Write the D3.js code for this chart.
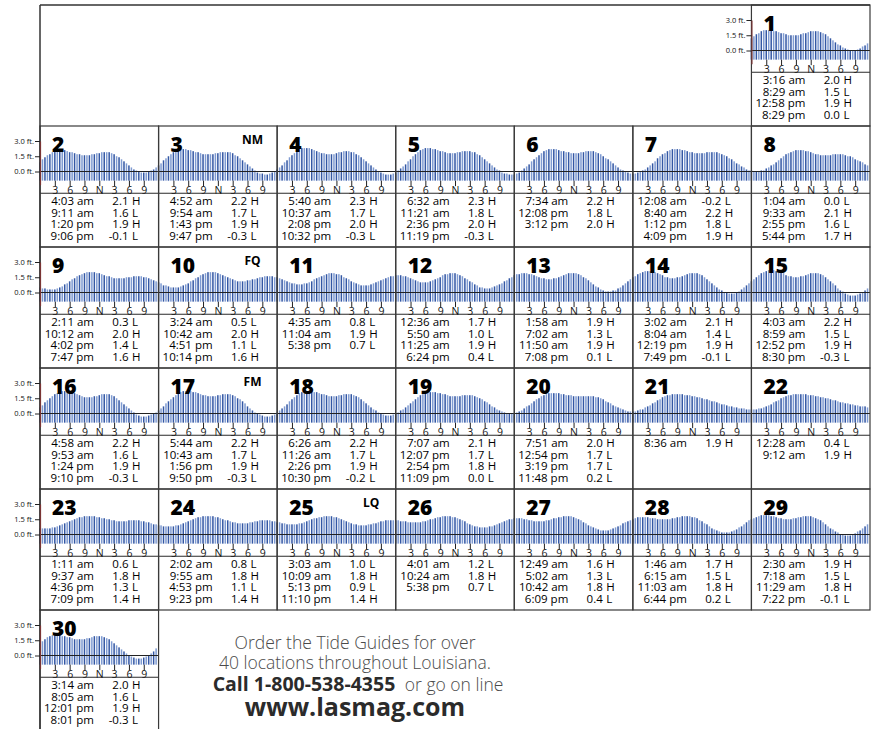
<!DOCTYPE html>
<html><head><meta charset="utf-8">
<script src="https://cdn.jsdelivr.net/npm/d3@7"></script>
<style>
html,body{margin:0;padding:0;background:#fff;}
svg{display:block;font-family:"Open Sans","Noto Sans",sans-serif;}
</style></head><body>
<svg id="chart" width="875" height="729"></svg>
<script>
const dayNumbers = d3.range(1, 31);
const tideTimes = [
["3:16 am","8:29 am","12:58 pm","8:29 pm"],
["4:03 am","9:11 am","1:20 pm","9:06 pm"],
["4:52 am","9:54 am","1:43 pm","9:47 pm"],
["5:40 am","10:37 am","2:08 pm","10:32 pm"],
["6:32 am","11:21 am","2:36 pm","11:19 pm"],
["7:34 am","12:08 pm","3:12 pm"],
["12:08 am","8:40 am","1:12 pm","4:09 pm"],
["1:04 am","9:33 am","2:55 pm","5:44 pm"],
["2:11 am","10:12 am","4:02 pm","7:47 pm"],
["3:24 am","10:42 am","4:51 pm","10:14 pm"],
["4:35 am","11:04 am","5:38 pm"],
["12:36 am","5:50 am","11:25 am","6:24 pm"],
["1:58 am","7:02 am","11:50 am","7:08 pm"],
["3:02 am","8:04 am","12:19 pm","7:49 pm"],
["4:03 am","8:59 am","12:52 pm","8:30 pm"],
["4:58 am","9:53 am","1:24 pm","9:10 pm"],
["5:44 am","10:43 am","1:56 pm","9:50 pm"],
["6:26 am","11:26 am","2:26 pm","10:30 pm"],
["7:07 am","12:07 pm","2:54 pm","11:09 pm"],
["7:51 am","12:54 pm","3:19 pm","11:48 pm"],
["8:36 am"],
["12:28 am","9:12 am"],
["1:11 am","9:37 am","4:36 pm","7:09 pm"],
["2:02 am","9:55 am","4:53 pm","9:23 pm"],
["3:03 am","10:09 am","5:13 pm","11:10 pm"],
["4:01 am","10:24 am","5:38 pm"],
["12:49 am","5:02 am","10:42 am","6:09 pm"],
["1:46 am","6:15 am","11:03 am","6:44 pm"],
["2:30 am","7:18 am","11:29 am","7:22 pm"],
["3:14 am","8:05 am","12:01 pm","8:01 pm"]
];
const tideLevels = [
["2.0","1.5","1.9","0.0"],
["2.1","1.6","1.9","-0.1"],
["2.2","1.7","1.9","-0.3"],
["2.3","1.7","2.0","-0.3"],
["2.3","1.8","2.0","-0.3"],
["2.2","1.8","2.0"],
["-0.2","2.2","1.8","1.9"],
["0.0","2.1","1.6","1.7"],
["0.3","2.0","1.4","1.6"],
["0.5","2.0","1.1","1.6"],
["0.8","1.9","0.7"],
["1.7","1.0","1.9","0.4"],
["1.9","1.3","1.9","0.1"],
["2.1","1.4","1.9","-0.1"],
["2.2","1.5","1.9","-0.3"],
["2.2","1.6","1.9","-0.3"],
["2.2","1.7","1.9","-0.3"],
["2.2","1.7","1.9","-0.2"],
["2.1","1.7","1.8","0.0"],
["2.0","1.7","1.7","0.2"],
["1.9"],
["0.4","1.9"],
["0.6","1.8","1.3","1.4"],
["0.8","1.8","1.1","1.4"],
["1.0","1.8","0.9","1.4"],
["1.2","1.8","0.7"],
["1.6","1.3","1.8","0.4"],
["1.7","1.5","1.8","0.2"],
["1.9","1.5","1.8","-0.1"],
["2.0","1.6","1.9","-0.3"]
];
const tideKinds = ["HLHL","HLHL","HLHL","HLHL","HLHL","HLH","LHLH","LHLH","LHLH","LHLH",
"LHL","HLHL","HLHL","HLHL","HLHL","HLHL","HLHL","HLHL","HLHL","HLLL",
"H","LH","LHLH","LHLH","LHLH","LHL","HLHL","HLHL","HLHL","HLHL"];
// half-hourly tide heights (ft), 48 per day
const tideHeights = [
[1.2,1.4,1.6,1.7,1.9,2.0,2.0,2.0,2.0,1.9,1.9,1.8,1.7,1.7,1.6,1.5,1.5,1.5,1.5,1.5,1.6,1.7,1.7,1.8,1.9,1.9,1.9,1.9,1.8,1.7,1.6,1.4,1.2,1.0,0.8,0.6,0.5,0.3,0.2,0.1,0.0,0.0,0.0,0.1,0.2,0.4,0.5,0.7],
[0.9,1.2,1.4,1.6,1.7,1.9,2.0,2.1,2.1,2.1,2.1,2.0,1.9,1.9,1.8,1.7,1.7,1.6,1.6,1.6,1.6,1.7,1.7,1.8,1.8,1.9,1.9,1.9,1.9,1.8,1.7,1.5,1.4,1.2,1.0,0.8,0.6,0.4,0.2,0.1,0.0,-0.1,-0.1,-0.1,0.0,0.1,0.2,0.4],
[0.6,0.8,1.1,1.3,1.5,1.7,1.9,2.0,2.1,2.2,2.2,2.2,2.1,2.1,2.0,1.9,1.9,1.8,1.7,1.7,1.7,1.7,1.7,1.8,1.8,1.9,1.9,1.9,1.9,1.9,1.8,1.6,1.5,1.3,1.1,0.9,0.7,0.5,0.3,0.1,-0.1,-0.2,-0.2,-0.3,-0.3,-0.2,-0.1,0.0],
[0.2,0.4,0.6,0.9,1.1,1.4,1.6,1.8,2.0,2.2,2.3,2.3,2.3,2.3,2.2,2.1,2.0,1.9,1.8,1.8,1.7,1.7,1.7,1.7,1.8,1.9,1.9,2.0,2.0,2.0,1.9,1.9,1.7,1.6,1.4,1.2,1.0,0.8,0.6,0.4,0.2,0.0,-0.1,-0.2,-0.3,-0.3,-0.3,-0.2],
[-0.1,0.1,0.3,0.5,0.7,1.0,1.2,1.5,1.7,1.9,2.1,2.2,2.3,2.3,2.3,2.2,2.2,2.1,2.0,2.0,1.9,1.8,1.8,1.8,1.8,1.9,1.9,2.0,2.0,2.0,2.0,1.9,1.9,1.7,1.6,1.4,1.2,1.0,0.8,0.6,0.4,0.2,0.1,-0.1,-0.2,-0.2,-0.3,-0.3],
[-0.3,-0.2,-0.1,0.1,0.3,0.5,0.7,1.0,1.2,1.4,1.6,1.8,2.0,2.1,2.2,2.2,2.2,2.2,2.1,2.0,2.0,1.9,1.9,1.8,1.8,1.8,1.8,1.9,1.9,2.0,2.0,2.0,2.0,1.9,1.8,1.7,1.5,1.3,1.2,1.0,0.8,0.6,0.4,0.2,0.1,0.0,-0.1,-0.2],
[-0.2,-0.2,-0.1,0.0,0.1,0.2,0.4,0.6,0.8,1.0,1.3,1.5,1.7,1.8,2.0,2.1,2.2,2.2,2.2,2.2,2.1,2.1,2.0,1.9,1.9,1.8,1.8,1.8,1.8,1.8,1.9,1.9,1.9,1.9,1.9,1.8,1.7,1.6,1.5,1.3,1.2,1.0,0.8,0.7,0.5,0.4,0.2,0.1],
[0.1,0.0,0.0,0.0,0.1,0.1,0.3,0.4,0.6,0.7,0.9,1.1,1.3,1.5,1.7,1.8,1.9,2.0,2.1,2.1,2.1,2.1,2.0,2.0,1.9,1.8,1.7,1.7,1.6,1.6,1.6,1.6,1.6,1.7,1.7,1.7,1.7,1.7,1.6,1.5,1.5,1.4,1.2,1.1,1.0,0.9,0.7,0.6],
[0.5,0.4,0.4,0.3,0.3,0.3,0.3,0.4,0.5,0.6,0.8,0.9,1.1,1.3,1.4,1.6,1.7,1.8,1.9,2.0,2.0,2.0,2.0,1.9,1.9,1.8,1.7,1.6,1.6,1.5,1.4,1.4,1.4,1.4,1.4,1.5,1.5,1.5,1.6,1.6,1.6,1.6,1.5,1.5,1.4,1.3,1.2,1.1],
[1.0,0.9,0.7,0.7,0.6,0.5,0.5,0.5,0.5,0.6,0.7,0.8,0.9,1.1,1.2,1.4,1.5,1.7,1.8,1.9,2.0,2.0,2.0,2.0,1.9,1.8,1.7,1.6,1.5,1.4,1.3,1.2,1.1,1.1,1.1,1.1,1.2,1.2,1.3,1.3,1.4,1.5,1.5,1.6,1.6,1.6,1.6,1.5],
[1.5,1.4,1.3,1.2,1.1,1.0,0.9,0.9,0.8,0.8,0.8,0.9,0.9,1.0,1.1,1.3,1.4,1.5,1.6,1.7,1.8,1.9,1.9,1.9,1.8,1.8,1.7,1.5,1.4,1.3,1.1,1.0,0.9,0.8,0.7,0.7,0.7,0.7,0.8,0.9,1.0,1.1,1.2,1.3,1.4,1.5,1.6,1.6],
[1.7,1.7,1.7,1.6,1.6,1.5,1.4,1.3,1.2,1.1,1.0,1.0,1.0,1.0,1.1,1.2,1.3,1.4,1.5,1.7,1.8,1.8,1.9,1.9,1.9,1.8,1.7,1.6,1.4,1.3,1.1,1.0,0.8,0.7,0.5,0.5,0.4,0.4,0.4,0.5,0.6,0.7,0.8,0.9,1.1,1.2,1.4,1.5],
[1.7,1.8,1.8,1.9,1.9,1.9,1.8,1.8,1.7,1.6,1.5,1.4,1.4,1.3,1.3,1.3,1.4,1.4,1.5,1.6,1.7,1.8,1.9,1.9,1.9,1.9,1.8,1.7,1.5,1.4,1.2,1.0,0.8,0.6,0.5,0.3,0.2,0.1,0.1,0.1,0.2,0.2,0.4,0.5,0.7,0.9,1.1,1.3],
[1.5,1.6,1.8,1.9,2.0,2.1,2.1,2.1,2.0,2.0,1.9,1.8,1.7,1.5,1.5,1.4,1.4,1.4,1.5,1.5,1.6,1.7,1.8,1.9,1.9,1.9,1.9,1.8,1.7,1.5,1.3,1.1,0.9,0.7,0.5,0.3,0.2,0.0,0.0,-0.1,-0.1,-0.1,0.0,0.1,0.3,0.5,0.7,0.9],
[1.1,1.3,1.5,1.7,1.9,2.0,2.1,2.2,2.2,2.2,2.1,2.1,2.0,1.9,1.7,1.6,1.6,1.5,1.5,1.5,1.6,1.6,1.7,1.8,1.9,1.9,1.9,1.9,1.8,1.7,1.5,1.3,1.1,0.9,0.7,0.4,0.2,0.1,-0.1,-0.2,-0.3,-0.3,-0.3,-0.2,-0.1,0.0,0.2,0.4],
[0.6,0.8,1.1,1.3,1.5,1.7,1.9,2.0,2.1,2.2,2.2,2.2,2.1,2.1,2.0,1.9,1.8,1.7,1.6,1.6,1.6,1.6,1.7,1.7,1.8,1.9,1.9,1.9,1.9,1.8,1.7,1.5,1.3,1.1,0.9,0.7,0.5,0.3,0.1,-0.1,-0.2,-0.3,-0.3,-0.3,-0.2,-0.1,0.0,0.1],
[0.3,0.5,0.7,1.0,1.2,1.4,1.6,1.8,2.0,2.1,2.2,2.2,2.2,2.2,2.1,2.1,2.0,1.9,1.8,1.8,1.7,1.7,1.7,1.7,1.8,1.8,1.9,1.9,1.9,1.9,1.8,1.7,1.5,1.4,1.2,1.0,0.7,0.5,0.3,0.1,0.0,-0.1,-0.2,-0.3,-0.3,-0.3,-0.2,-0.1],
[0.1,0.3,0.5,0.7,0.9,1.2,1.4,1.6,1.8,2.0,2.1,2.1,2.2,2.2,2.2,2.1,2.1,2.0,1.9,1.9,1.8,1.7,1.7,1.7,1.7,1.8,1.8,1.9,1.9,1.9,1.9,1.8,1.7,1.6,1.4,1.2,1.0,0.8,0.6,0.4,0.3,0.1,0.0,-0.1,-0.2,-0.2,-0.2,-0.1],
[0.0,0.1,0.3,0.4,0.6,0.8,1.0,1.2,1.4,1.6,1.8,1.9,2.0,2.1,2.1,2.1,2.1,2.0,2.0,1.9,1.9,1.8,1.7,1.7,1.7,1.7,1.7,1.8,1.8,1.8,1.8,1.8,1.7,1.6,1.5,1.4,1.2,1.1,0.9,0.7,0.6,0.4,0.3,0.2,0.1,0.0,0.0,0.0],
[0.0,0.1,0.2,0.3,0.5,0.7,0.8,1.0,1.2,1.4,1.5,1.7,1.8,1.9,2.0,2.0,2.0,2.0,2.0,1.9,1.9,1.8,1.8,1.8,1.7,1.7,1.7,1.7,1.7,1.7,1.7,1.7,1.7,1.6,1.6,1.5,1.4,1.2,1.1,1.0,0.8,0.7,0.6,0.5,0.4,0.3,0.2,0.2],
[0.2,0.2,0.3,0.4,0.4,0.6,0.7,0.8,1.0,1.1,1.3,1.4,1.6,1.7,1.8,1.8,1.9,1.9,1.9,1.9,1.9,1.8,1.8,1.8,1.7,1.7,1.6,1.6,1.5,1.4,1.4,1.3,1.2,1.2,1.1,1.0,0.9,0.9,0.8,0.7,0.7,0.6,0.6,0.5,0.5,0.5,0.4,0.4],
[0.4,0.4,0.4,0.5,0.5,0.6,0.7,0.8,0.9,1.1,1.2,1.3,1.5,1.6,1.7,1.8,1.8,1.9,1.9,1.9,1.9,1.9,1.9,1.8,1.8,1.8,1.7,1.7,1.6,1.6,1.5,1.5,1.4,1.3,1.3,1.2,1.1,1.1,1.0,1.0,0.9,0.9,0.8,0.8,0.7,0.7,0.7,0.6],
[0.6,0.6,0.6,0.6,0.6,0.7,0.7,0.8,0.9,1.0,1.1,1.2,1.3,1.4,1.5,1.6,1.7,1.7,1.8,1.8,1.8,1.8,1.8,1.7,1.7,1.6,1.6,1.5,1.5,1.4,1.4,1.3,1.3,1.3,1.3,1.3,1.4,1.4,1.4,1.4,1.4,1.3,1.3,1.2,1.2,1.1,1.0,1.0],
[0.9,0.9,0.8,0.8,0.8,0.8,0.8,0.9,0.9,1.0,1.1,1.2,1.3,1.4,1.5,1.6,1.7,1.7,1.8,1.8,1.8,1.8,1.8,1.7,1.7,1.6,1.5,1.4,1.4,1.3,1.2,1.2,1.1,1.1,1.1,1.1,1.1,1.2,1.2,1.3,1.3,1.4,1.4,1.4,1.4,1.4,1.3,1.3],
[1.2,1.2,1.1,1.1,1.0,1.0,1.0,1.0,1.0,1.1,1.1,1.2,1.3,1.4,1.5,1.6,1.6,1.7,1.7,1.8,1.8,1.8,1.8,1.7,1.7,1.6,1.5,1.4,1.3,1.2,1.1,1.0,1.0,0.9,0.9,0.9,0.9,1.0,1.0,1.1,1.1,1.2,1.3,1.3,1.4,1.4,1.4,1.4],
[1.4,1.4,1.3,1.3,1.3,1.2,1.2,1.2,1.2,1.2,1.2,1.3,1.3,1.4,1.5,1.5,1.6,1.7,1.7,1.8,1.8,1.8,1.8,1.7,1.7,1.6,1.5,1.4,1.3,1.1,1.0,0.9,0.8,0.8,0.7,0.7,0.7,0.7,0.8,0.8,0.9,1.0,1.1,1.2,1.3,1.4,1.5,1.5],
[1.6,1.6,1.6,1.6,1.5,1.5,1.4,1.4,1.3,1.3,1.3,1.3,1.3,1.4,1.4,1.5,1.6,1.6,1.7,1.7,1.8,1.8,1.8,1.8,1.7,1.6,1.5,1.4,1.2,1.1,0.9,0.8,0.7,0.6,0.5,0.4,0.4,0.4,0.4,0.5,0.6,0.7,0.8,0.9,1.1,1.2,1.3,1.4],
[1.5,1.6,1.7,1.7,1.7,1.7,1.7,1.6,1.6,1.6,1.5,1.5,1.5,1.5,1.5,1.5,1.6,1.6,1.7,1.7,1.8,1.8,1.8,1.8,1.7,1.7,1.6,1.4,1.3,1.1,1.0,0.8,0.6,0.5,0.4,0.3,0.2,0.2,0.2,0.2,0.3,0.4,0.5,0.7,0.8,1.0,1.2,1.4],
[1.5,1.6,1.7,1.8,1.9,1.9,1.9,1.9,1.8,1.8,1.7,1.6,1.6,1.5,1.5,1.5,1.5,1.6,1.6,1.7,1.7,1.8,1.8,1.8,1.8,1.7,1.6,1.5,1.4,1.2,1.0,0.8,0.6,0.5,0.3,0.2,0.0,0.0,-0.1,-0.1,-0.1,0.0,0.1,0.3,0.4,0.6,0.8,1.0],
[1.2,1.4,1.6,1.8,1.9,2.0,2.0,2.0,2.0,1.9,1.9,1.8,1.8,1.7,1.6,1.6,1.6,1.6,1.6,1.7,1.7,1.8,1.9,1.9,1.9,1.9,1.8,1.7,1.6,1.4,1.2,1.0,0.8,0.6,0.4,0.2,0.0,-0.1,-0.2,-0.3,-0.3,-0.3,-0.2,-0.1,0.0,0.2,0.4,0.7]
];
const hourTicks = [3, 6, 9, 12, 15, 18, 21];
const hourLabels = ["3", "6", "9", "N", "3", "6", "9"];
const levelTicks = [0, 1.5, 3.0];
const levelLabels = ["0.0 ft.", "1.5 ft.", "3.0 ft."];
const phaseDays = [3, 10, 17, 25];
const phaseLabels = ["NM", "FQ", "FM", "LQ"];
const promoLines = ["Order the Tide Guides for over", "40 locations throughout Louisiana."];
const promoCall = ["Call 1-800-538-4355", "or go on line"];
const promoUrl = "www.lasmag.com";

const svg = d3.select("#chart");
const frameL = 40, frameR = 870, frameT = 5, rowH = 121, firstCol = 6;
const colW = (frameR - frameL) / 7;
const barBottom = -0.9;

const gBars = svg.append("g");
const gFrame = svg.append("g");
const gText = svg.append("g");

dayNumbers.forEach((day, k) => {
  const idx = k + firstCol;
  const col = idx % 7, row = Math.floor(idx / 7);
  const x0 = frameL + col * colW, y0 = frameT + row * rowH;
  const x = d3.scaleLinear().domain([0, 24]).range([x0, x0 + colW]);
  const y = d3.scaleLinear().domain([0, 3]).range([y0 + 45.5, y0 + 15]);
  const g = gBars.append("g");
  g.selectAll("rect").data(tideHeights[k]).join("rect")
    .attr("x", (d, j) => x(j / 2) - 0.75)
    .attr("width", 1.5)
    .attr("y", d => y(d))
    .attr("height", d => y(barBottom) - y(d))
    .attr("fill", (d, j) => j % 2 ? "#7f9bd2" : "#3357a4");
  g.append("line").attr("x1", x0).attr("x2", x0 + colW)
    .attr("y1", y(0)).attr("y2", y(0)).attr("stroke", "#222").attr("stroke-width", 1.1);
  const ax = g.append("g").attr("transform", `translate(0,${y(barBottom)})`)
    .call(d3.axisBottom(x).tickValues(hourTicks).tickFormat((d, i) => hourLabels[i]).tickSize(5.5).tickPadding(0));
  ax.select(".domain").remove();
  ax.selectAll("line").attr("stroke", "#222");
  ax.selectAll("text").attr("font-size", 10.5).attr("font-family", "Open Sans, sans-serif").attr("fill", "#111");
  g.append("line").attr("x1", x0).attr("x2", x0 + colW)
    .attr("y1", y0 + 67.3).attr("y2", y0 + 67.3).attr("stroke", "#2a2a2a").attr("stroke-width", 1.1);
  gFrame.append("rect").attr("x", x0).attr("y", y0).attr("width", colW).attr("height", rowH)
    .attr("fill", "none").attr("stroke", "#3a3a3a").attr("stroke-width", 1.2);
  if (col === 0 || day === 1) {
    const yAx = d3.scaleLinear().domain([-1.3, 3]).range([y(-1.3), y(3)]);
    const ya = gText.append("g").attr("transform", `translate(${x0},0)`)
      .call(d3.axisLeft(yAx).tickValues(levelTicks).tickFormat((d, i) => levelLabels[i]).tickSize(5).tickSizeOuter(0).tickPadding(1));
    ya.select(".domain").attr("stroke", "#7a3434").attr("stroke-width", 1.2);
    ya.selectAll("line").attr("stroke", "#222");
    ya.selectAll("text").attr("font-size", 7.5).attr("font-family", "Open Sans, sans-serif").attr("fill", "#111");
  }
  gText.append("text").attr("x", x0 + 12).attr("y", y0 + 25.5)
    .attr("font-size", 21).attr("font-weight", 800).attr("fill", "#000").text(day);
  const p = phaseDays.indexOf(day);
  if (p >= 0) {
    gText.append("text").attr("x", x0 + 94).attr("y", y0 + 18).attr("text-anchor", "middle")
      .attr("font-size", 12).attr("font-weight", 700).attr("fill", "#000").text(phaseLabels[p]);
  }
  tideTimes[k].forEach((t, j) => {
    const by = y0 + 79 + j * 11.65;
    gText.append("text").attr("x", x0 + 54).attr("y", by).attr("text-anchor", "end")
      .attr("font-size", 11.5).attr("fill", "#000").text(t);
    gText.append("text").attr("x", x0 + 88.5).attr("y", by).attr("text-anchor", "end")
      .attr("font-size", 11.5).attr("fill", "#000").text(tideLevels[k][j]);
    gText.append("text").attr("x", x0 + 92).attr("y", by)
      .attr("font-size", 11.5).attr("fill", "#000").text(tideKinds[k][j]);
  });
});

gFrame.append("line").attr("x1", frameL).attr("x2", frameR).attr("y1", frameT).attr("y2", frameT)
  .attr("stroke", "#333").attr("stroke-width", 1.5);
gFrame.append("line").attr("x1", frameL).attr("x2", frameL).attr("y1", frameT).attr("y2", 731)
  .attr("stroke", "#333").attr("stroke-width", 1.5);

const promo = svg.append("g").attr("fill", "#4a4a4a");
promo.selectAll("text.pl").data(promoLines).join("text").attr("class", "pl")
  .attr("x", 355).attr("y", (d, i) => 649 + i * 19.5).attr("text-anchor", "middle")
  .attr("font-size", 17.5).attr("font-weight", 300).text(d => d);
const call = promo.append("text").attr("x", 358).attr("y", 691).attr("text-anchor", "middle");
call.append("tspan").attr("font-size", 19.5).attr("font-weight", 700).attr("fill", "#2b2b2b").text(promoCall[0]);
call.append("tspan").attr("font-size", 17.5).attr("font-weight", 300).attr("dx", 5).text(" " + promoCall[1]);
promo.append("text").attr("x", 355).attr("y", 716).attr("text-anchor", "middle")
  .attr("font-size", 25).attr("font-weight", 700).attr("fill", "#2b2b2b").text(promoUrl);
</script>
</body></html>
